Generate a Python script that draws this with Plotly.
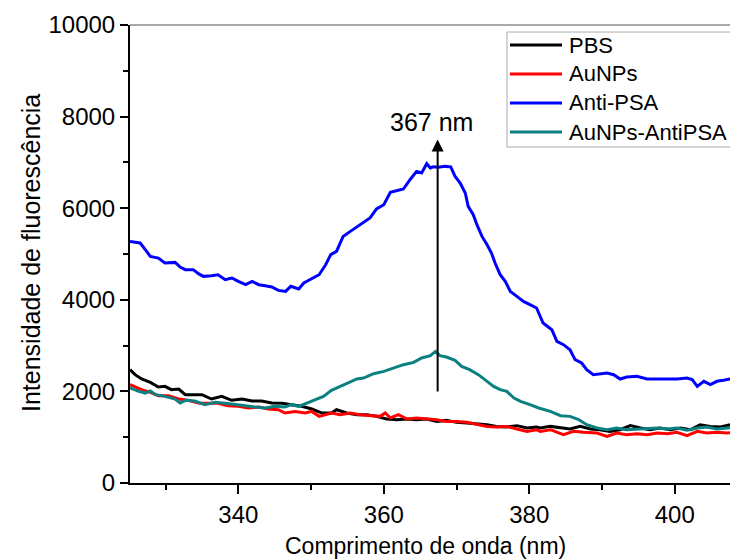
import plotly.graph_objects as go

# ---- data ----
series_names = ["PBS", "AuNPs", "Anti-PSA", "AuNPs-AntiPSA"]
series_colors = ["#000000", "#ff0000", "#0000ff", "#0a8080"]

pbs_x = [325.1, 325.8, 326.7, 327.9, 329.0, 329.9, 330.8, 331.8, 332.7, 333.6, 335.0, 336.3, 337.7, 339.1, 340.5, 341.9, 343.2, 344.6, 346.0, 347.3, 348.7, 350.1, 351.5, 352.8, 353.5, 354.9, 356.3, 357.7, 359.0, 360.4, 361.8, 363.2, 364.5, 365.9, 367.3, 368.6, 370.0, 371.4, 372.8, 374.2, 375.5, 376.9, 378.3, 379.7, 381.0, 381.5, 382.9, 384.3, 385.6, 387.0, 388.4, 389.7, 391.1, 392.5, 393.9, 395.3, 396.6, 398.0, 399.4, 400.8, 402.2, 403.5, 404.9, 406.3, 407.7, 408.5, 409.0]
pbs_y = [2474, 2365, 2271, 2197, 2096, 2110, 2037, 2052, 1928, 1928, 1928, 1834, 1891, 1805, 1834, 1790, 1790, 1747, 1740, 1710, 1674, 1616, 1528, 1528, 1600, 1528, 1491, 1491, 1455, 1397, 1382, 1397, 1382, 1397, 1345, 1367, 1324, 1310, 1295, 1273, 1236, 1223, 1252, 1201, 1223, 1201, 1236, 1201, 1179, 1236, 1179, 1164, 1127, 1164, 1252, 1201, 1164, 1201, 1164, 1201, 1164, 1273, 1236, 1223, 1273, 1236, 1240]

aunps_x = [325.1, 325.8, 326.7, 327.9, 329.0, 330.4, 331.8, 333.1, 334.5, 335.9, 337.2, 338.6, 340.0, 341.4, 342.8, 344.1, 345.5, 346.4, 347.8, 349.2, 350.1, 351.1, 352.0, 352.8, 354.0, 355.4, 356.7, 358.1, 359.5, 360.2, 360.9, 362.0, 363.2, 364.5, 365.9, 367.3, 368.6, 370.0, 371.4, 372.8, 374.2, 375.5, 376.9, 378.3, 379.7, 381.0, 381.5, 382.9, 384.7, 386.1, 387.4, 389.3, 390.7, 392.0, 393.4, 394.8, 396.2, 397.6, 399.0, 400.3, 401.7, 403.1, 404.4, 405.8, 407.2, 408.5, 409.0]
aunps_y = [2146, 2096, 2037, 1978, 1906, 1906, 1834, 1805, 1747, 1740, 1740, 1688, 1674, 1638, 1660, 1616, 1600, 1528, 1563, 1528, 1563, 1455, 1491, 1528, 1491, 1528, 1491, 1470, 1455, 1528, 1419, 1491, 1397, 1419, 1397, 1382, 1345, 1345, 1324, 1273, 1236, 1223, 1236, 1179, 1127, 1164, 1127, 1164, 1055, 1127, 1106, 1092, 1018, 1092, 1055, 1077, 1055, 1092, 1077, 1106, 1033, 1127, 1092, 1106, 1092, 1106, 1100]

antipsa_x = [325.1, 326.5, 327.2, 327.9, 329.0, 329.9, 331.3, 332.0, 332.7, 333.8, 334.5, 335.2, 336.3, 337.2, 338.2, 339.1, 340.0, 341.0, 341.9, 342.8, 343.7, 344.6, 345.5, 346.5, 347.2, 348.3, 349.0, 350.2, 351.1, 352.0, 352.7, 353.5, 354.4, 355.4, 356.3, 357.2, 358.1, 359.0, 360.0, 360.9, 361.8, 362.7, 363.6, 364.5, 365.2, 365.9, 366.4, 366.8, 367.5, 368.4, 369.2, 369.8, 370.5, 371.2, 371.6, 372.3, 372.8, 373.5, 374.2, 374.8, 375.3, 376.0, 376.7, 377.4, 378.3, 379.2, 380.1, 381.0, 381.9, 383.1, 383.8, 384.7, 385.6, 386.3, 387.2, 387.9, 388.8, 389.7, 390.7, 391.6, 392.5, 393.4, 394.8, 396.2, 397.6, 399.0, 400.3, 401.7, 402.4, 403.1, 404.0, 404.9, 405.8, 406.7, 407.6, 408.5, 409.0]
antipsa_y = [5275, 5240, 5094, 4948, 4912, 4803, 4817, 4716, 4658, 4658, 4570, 4512, 4527, 4548, 4439, 4476, 4402, 4330, 4402, 4330, 4308, 4279, 4205, 4184, 4294, 4236, 4367, 4476, 4548, 4766, 4985, 5057, 5384, 5494, 5590, 5677, 5786, 5983, 6077, 6345, 6389, 6419, 6622, 6804, 6768, 6972, 6878, 6903, 6893, 6913, 6903, 6694, 6550, 6332, 6040, 5858, 5640, 5384, 5203, 5022, 4803, 4548, 4402, 4183, 4074, 3965, 3893, 3821, 3493, 3347, 3092, 3020, 2910, 2692, 2620, 2474, 2365, 2387, 2402, 2365, 2271, 2314, 2329, 2271, 2271, 2271, 2271, 2292, 2257, 2110, 2220, 2147, 2220, 2242, 2271, 2257, 2260]

conj_x = [325.1, 326.3, 327.2, 327.9, 328.6, 329.9, 331.3, 332.0, 332.7, 334.0, 335.4, 336.8, 338.2, 339.5, 340.9, 342.3, 343.7, 345.0, 346.4, 347.3, 348.3, 349.4, 350.6, 351.7, 352.8, 353.5, 354.9, 356.3, 357.2, 358.6, 360.0, 361.4, 362.7, 364.1, 365.2, 366.4, 367.1, 367.7, 368.6, 369.8, 370.7, 371.8, 373.0, 374.2, 375.1, 376.0, 376.9, 377.9, 378.8, 380.1, 381.3, 382.9, 384.3, 385.6, 386.8, 387.9, 389.3, 390.7, 392.0, 393.4, 394.8, 396.2, 397.6, 399.0, 400.3, 401.7, 403.1, 404.4, 405.8, 407.2, 408.5, 409.0]
conj_y = [2074, 2000, 1964, 2010, 1928, 1891, 1834, 1747, 1805, 1790, 1710, 1762, 1740, 1710, 1688, 1660, 1638, 1674, 1660, 1710, 1674, 1747, 1834, 1891, 2022, 2074, 2183, 2271, 2292, 2387, 2437, 2511, 2583, 2633, 2729, 2780, 2873, 2780, 2751, 2677, 2546, 2474, 2365, 2218, 2110, 2037, 2000, 1856, 1782, 1710, 1638, 1563, 1470, 1455, 1382, 1273, 1201, 1164, 1201, 1164, 1179, 1201, 1201, 1179, 1201, 1150, 1201, 1223, 1179, 1201, 1223, 1220]

x_ticks = [340, 360, 380, 400]
x_minor = [330, 350, 370, 390]
y_ticks = [0, 2000, 4000, 6000, 8000, 10000]
y_tick_text = ["0", "2000", "4000", "6000", "8000", "10000"]
y_minor = [1000, 3000, 5000, 7000, 9000]
peak_label = "367 nm"
peak_x = 367.4
arrow_from_y = 1965
arrow_to_y = 7500

xs = [pbs_x, aunps_x, antipsa_x, conj_x]
ys = [pbs_y, aunps_y, antipsa_y, conj_y]

FONT = "Liberation Sans, Arial, sans-serif"
OFF = 8  # page body margin offset of the rendered figure
W, H = 738 - OFF, 560 - OFF
ML, MR, MT, MB = 130 - OFF, 0, 25 - OFF, 77
PW, PH = W - ML - MR, H - MT - MB


def px(xwin):
    return (xwin - OFF - ML) / PW


def py(ywin):
    return (H - MB - (ywin - OFF)) / PH


fig = go.Figure()
for name, col, x, y in zip(series_names, series_colors, xs, ys):
    fig.add_trace(go.Scatter(x=x, y=y, mode="lines", name=name,
                             line=dict(color=col, width=3), showlegend=False))

fig.update_layout(
    width=W, height=H,
    margin=dict(l=ML, r=MR, t=MT, b=MB),
    paper_bgcolor="white", plot_bgcolor="white",
    font=dict(family=FONT, color="black", size=24),
    showlegend=False,
)
fig.update_xaxes(range=[325.1, 408.7], tickmode="array", tickvals=x_ticks,
                 ticks="outside", ticklen=9, tickwidth=1.5, tickcolor="black",
                 showline=True, linecolor="black", linewidth=2,
                 showgrid=False, zeroline=False,
                 tickfont=dict(size=24),
                 minor=dict(tickmode="array", tickvals=x_minor,
                            ticks="outside", ticklen=5, tickwidth=1.5, tickcolor="black"))
fig.update_yaxes(range=[0, 10000], tickmode="array", tickvals=y_ticks, ticktext=y_tick_text,
                 ticks="outside", ticklen=8, tickwidth=1.5, tickcolor="black",
                 showline=True, linecolor="black", linewidth=2,
                 showgrid=False, zeroline=False,
                 tickfont=dict(size=24),
                 minor=dict(tickmode="array", tickvals=y_minor,
                            ticks="outside", ticklen=5, tickwidth=1.5, tickcolor="black"))

shapes = []
annotations = []
# top frame line
shapes.append(dict(type="line", xref="paper", yref="paper", x0=0, x1=1, y0=1, y1=1,
                   line=dict(color="#555555", width=1)))
# legend box
shapes.append(dict(type="rect", xref="paper", yref="paper",
                   x0=px(507), x1=px(760), y0=py(147), y1=py(32),
                   line=dict(color="#aaaaaa", width=1), fillcolor="white"))
row_y = [45, 74, 103, 132]
for name, col, ry_ in zip(series_names, series_colors, row_y):
    shapes.append(dict(type="line", xref="paper", yref="paper",
                       x0=px(510), x1=px(562), y0=py(ry_), y1=py(ry_),
                       line=dict(color=col, width=3)))
    annotations.append(dict(xref="paper", yref="paper", x=px(567), y=py(ry_),
                            xanchor="left", yanchor="middle", text=name,
                            showarrow=False, font=dict(size=22, family=FONT)))

# arrow and peak label
annotations.append(dict(x=peak_x, y=arrow_to_y, ax=peak_x, ay=arrow_from_y,
                        xref="x", yref="y", axref="x", ayref="y",
                        showarrow=True, arrowhead=2, arrowsize=1.2, arrowwidth=2,
                        arrowcolor="black", text=""))
annotations.append(dict(xref="paper", yref="paper", x=px(431), y=py(122),
                        xanchor="center", yanchor="middle", text=peak_label,
                        showarrow=False, font=dict(size=25, family=FONT)))
# axis titles
annotations.append(dict(xref="paper", yref="paper", x=px(425), y=py(546),
                        xanchor="center", yanchor="middle",
                        text="Comprimento de onda (nm)", showarrow=False,
                        font=dict(size=23, family=FONT)))
annotations.append(dict(xref="paper", yref="paper", x=px(31), y=py(253),
                        xanchor="center", yanchor="middle", textangle=-90,
                        text="Intensidade de fluorescência", showarrow=False,
                        font=dict(size=25, family=FONT)))

fig.update_layout(shapes=shapes, annotations=annotations)
fig.write_html("out.html")
